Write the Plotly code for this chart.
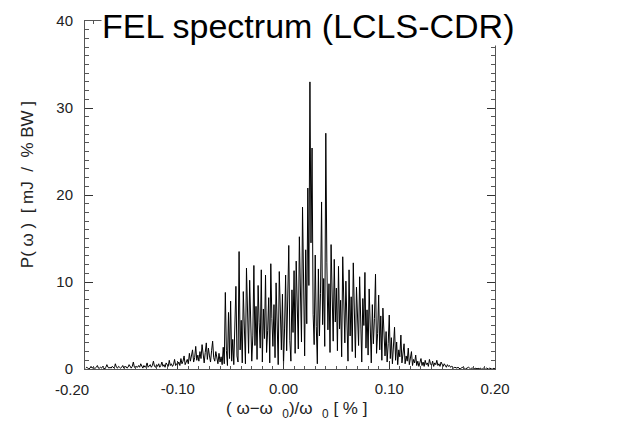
import plotly.graph_objects as go

# Sampling grid of the spectrum (relative frequency offset, %)
x_start = -0.187
x_step = 0.001

# Spectral power P(omega) [mJ / % BW]
power = [
    # -0.187 .. -0.101 (noise floor)
    0.1, 0.2, 0.1, 0.0, 0.1, 0.3, 0.1, 0.2, 0.1, 0.1,
    0.2, 0.4, 0.1, 0.1, 0.2, 0.1, 0.3, 0.1, 0.0, 0.2,
    0.5, 0.2, 0.1, 0.2, 0.1, 0.3, 0.2, 0.1, 0.6, 0.2,
    0.1, 0.3, 0.2, 0.1, 0.2, 0.4, 0.1, 0.2, 0.3, 0.1,
    0.2, 0.5, 0.2, 0.1, 0.3, 0.8, 0.2, 0.1, 0.3, 0.2,
    0.4, 0.2, 0.6, 0.3, 0.1, 0.4, 0.2, 0.3, 0.7, 0.2,
    0.3, 0.5, 0.2, 0.4, 0.9, 0.3, 0.2, 0.5, 0.3, 0.6,
    0.2, 0.4, 0.8, 0.3, 0.5, 0.2, 0.7, 0.4, 0.3, 1.0,
    0.4, 0.6, 0.3, 0.5, 1.1, 0.4, 0.6,
    # -0.100 .. -0.057
    0.5, 0.8, 0.4, 1.2, 0.6, 0.9, 1.5, 0.5, 0.8, 1.1,
    0.6, 1.8, 0.9, 1.4, 2.2, 0.8, 1.3, 2.6, 1.0, 1.6,
    0.9, 2.0, 1.2, 2.8, 1.4, 0.7, 1.9, 3.0, 1.1, 2.4,
    1.5, 0.8, 2.1, 3.2, 1.3, 0.9, 2.0, 1.2, 0.6, 1.8,
    0.8, 1.4, 0.5, 2.5,
    # -0.056 .. 0.000
    0.6, 8.8, 2.1, 0.4, 6.5, 1.2, 7.8, 0.9, 3.4, 0.5,
    4.8, 9.5, 1.5, 0.8, 13.5, 2.2, 5.6, 0.7, 8.9, 3.1,
    0.6, 11.6, 4.5, 1.8, 10.2, 6.4, 0.9, 3.8, 11.9, 2.7,
    7.2, 1.1, 9.6, 5.3, 2.4, 11.4, 0.8, 6.9, 3.5, 10.8,
    1.9, 4.4, 8.2, 0.7, 12.1, 5.8, 2.6, 7.4, 1.3, 9.9,
    3.7, 0.5, 11.2, 6.1, 2.2, 8.6, 0.4,
    # 0.001 .. 0.050 (central peaks)
    4.6, 10.8, 2.1, 7.5, 14.2, 3.3, 0.9, 9.1, 4.2, 11.3,
    1.8, 12.4, 5.6, 2.3, 15.2, 6.8, 3.1, 18.6, 8.4, 1.5,
    13.7, 5.2, 20.8, 9.6, 33.0, 14.5, 25.4, 6.3, 2.8, 13.1,
    4.9, 0.6, 11.5, 3.8, 8.7, 19.2, 5.1, 10.4, 2.6, 27.1,
    12.2, 4.5, 9.8, 1.9, 14.3, 6.7, 3.2, 12.6, 5.4, 9.3,
    # 0.051 .. 0.095
    2.1, 11.8, 4.6, 7.9, 1.4, 12.9, 5.5, 3.0, 10.1, 6.2,
    0.9, 11.4, 3.8, 8.3, 2.0, 12.2, 4.7, 1.3, 9.4, 6.6,
    2.7, 10.6, 3.3, 0.8, 8.1, 5.0, 11.1, 2.4, 6.8, 1.6,
    9.2, 3.9, 0.7, 7.4, 2.9, 5.8, 10.9, 1.8, 4.1, 8.5,
    2.2, 6.1, 1.0, 7.0, 3.4,
    # 0.096 .. 0.125
    1.5, 4.3, 0.8, 2.9, 6.2, 1.2, 3.6, 0.6, 2.4, 4.8,
    1.0, 3.1, 0.5, 2.2, 1.4, 3.9, 0.7, 1.8, 2.9, 0.6,
    1.5, 0.9, 2.4, 0.5, 1.2, 2.0, 0.4, 1.1, 0.7, 1.6,
    # 0.126 .. 0.160
    0.4, 0.9, 0.3, 0.7, 1.2, 0.4, 0.8, 0.3, 1.0, 0.5,
    0.7, 0.3, 1.1, 0.6, 0.4, 0.9, 0.3, 0.7, 0.5, 1.0,
    0.4, 0.6, 0.3, 0.8, 0.5, 0.3, 0.6, 0.4, 0.2, 0.5,
    0.3, 0.4, 0.2, 0.3, 0.2,
    # 0.161 .. 0.200
    0.1, 0.2, 0.1, 0.1, 0.2, 0.1, 0.0, 0.1, 0.2, 0.1,
    0.1, 0.0, 0.1, 0.1, 0.2, 0.1, 0.0, 0.1, 0.1, 0.0,
    0.1, 0.1, 0.0, 0.1, 0.0, 0.1, 0.0, 0.0, 0.1, 0.0,
    0.0, 0.1, 0.0, 0.0, 0.1, 0.0, 0.0, 0.0, 0.1, 0.0,
]

freq = [round(x_start + i * x_step, 4) for i in range(len(power))]

x_tick_vals = [-0.20, -0.10, 0.00, 0.10, 0.20]
y_tick_vals = [0, 10, 20, 30, 40]
x_range = [-0.1877, 0.2]
y_range = [0, 40]

NB = "\u00a0"
title_text = "FEL spectrum (LCLS-CDR)"
x_title = ("(" + NB + "ω−ω" + NB * 2 + "<sub>0</sub>)/ω" + NB * 2
           + "<sub>0</sub>" + NB + "[" + NB + "%" + NB + "]")
y_title = ("P(" + NB + "ω" + NB + ")" + NB * 2 + "[" + NB + "mJ" + NB * 2 + "/"
           + NB * 2 + "%" + NB + "BW" + NB + "]")

FONT = "Liberation Sans, Arial, sans-serif"
tickfont = dict(family=FONT, size=15, color="#222222")

fig = go.Figure()
fig.add_trace(go.Scatter(
    x=freq, y=power, mode="lines",
    line=dict(color="black", width=1),
    hoverinfo="skip", showlegend=False,
))

shown_x = [v for v in x_tick_vals if x_range[0] <= v <= x_range[1]]
fig.update_layout(
    width=617, height=430, autosize=False,
    margin=dict(l=85, r=122, t=18, b=61),
    paper_bgcolor="white", plot_bgcolor="white",
    xaxis=dict(
        range=x_range, tickvals=shown_x,
        ticktext=["%.2f" % v for v in shown_x],
        ticks="inside", ticklen=8, tickwidth=1, tickcolor="#333",
        minor=dict(ticks="inside", ticklen=3, dtick=0.01, tick0=0, tickcolor="#555"),
        showline=True, linecolor="#555", linewidth=1, mirror="ticks",
        showgrid=False, zeroline=False, tickfont=tickfont,
        ticklabelstandoff=6,
    ),
    yaxis=dict(
        range=y_range, tickvals=y_tick_vals,
        ticks="inside", ticklen=8, tickwidth=1, tickcolor="#333",
        minor=dict(ticks="inside", ticklen=4, dtick=1, tick0=0, tickcolor="#555"),
        showline=True, linecolor="#555", linewidth=1, mirror="ticks",
        showgrid=False, zeroline=False, tickfont=tickfont,
        ticklabelstandoff=8,
    ),
)

# Leftmost x tick label (-0.20) lies just outside the data range
frac = (x_tick_vals[0] - x_range[0]) / (x_range[1] - x_range[0])
fig.add_annotation(
    x=frac, y=-0.06, xref="paper", yref="paper",
    text="%.2f" % x_tick_vals[0], showarrow=False,
    xanchor="center", yanchor="middle", font=tickfont,
)

fig.add_annotation(
    x=0.544, y=0.985, xref="paper", yref="paper",
    text=title_text, showarrow=False, xanchor="center", yanchor="middle",
    font=dict(family=FONT, size=34, color="black"),
    bgcolor="white", borderpad=0,
)
fig.add_annotation(
    x=0.517, y=-0.117, xref="paper", yref="paper",
    text=x_title, showarrow=False, xanchor="center", yanchor="middle",
    font=dict(family=FONT, size=17, color="#222222"),
)
fig.add_annotation(
    x=-0.14, y=0.53, xref="paper", yref="paper",
    text=y_title, showarrow=False, xanchor="center", yanchor="middle",
    textangle=-90,
    font=dict(family=FONT, size=17, color="#222222"),
)

fig.write_html("out.html")
